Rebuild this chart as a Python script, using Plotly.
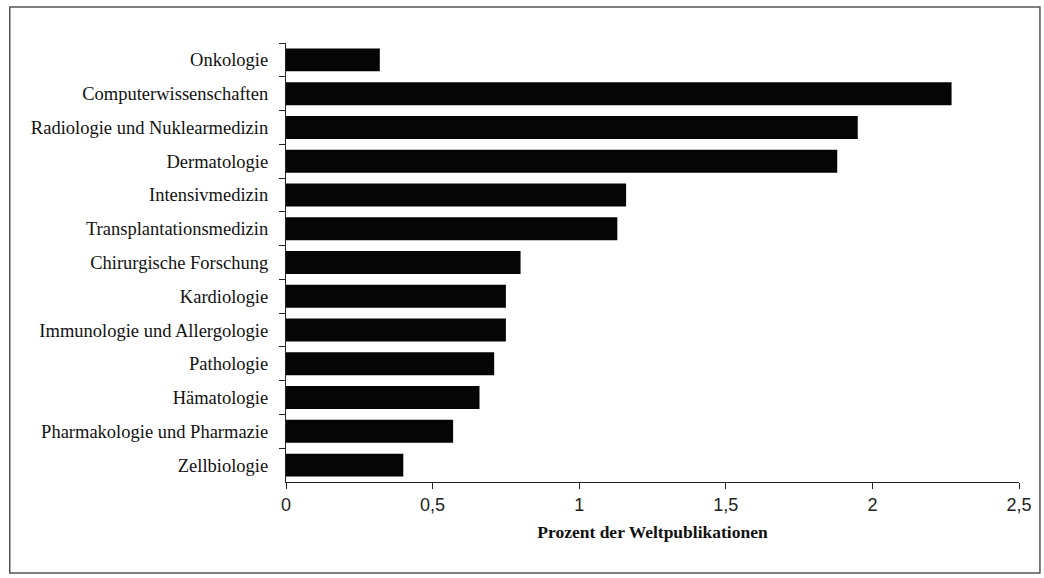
import plotly.graph_objects as go

categories = [
    "Onkologie",
    "Computerwissenschaften",
    "Radiologie und Nuklearmedizin",
    "Dermatologie",
    "Intensivmedizin",
    "Transplantationsmedizin",
    "Chirurgische Forschung",
    "Kardiologie",
    "Immunologie und Allergologie",
    "Pathologie",
    "Hämatologie",
    "Pharmakologie und Pharmazie",
    "Zellbiologie",
]
values = [0.32, 2.27, 1.95, 1.88, 1.16, 1.13, 0.80, 0.75, 0.75, 0.71, 0.66, 0.57, 0.40]
x_ticks = [0, 0.5, 1, 1.5, 2, 2.5]
x_title = "Prozent der Weltpublikationen"

L, R, T, B = 286, 23, 43, 96
W, H = 1044, 578
pw, ph = W - L - R, H - T - B

def px_x(p):
    return (p - L) / pw

def px_y(p):
    return (H - B - p) / ph

fig = go.Figure(go.Bar(
    x=values, y=categories, orientation="h",
    marker=dict(color="#050505", line=dict(width=0)),
    width=0.68,
))

fig.update_layout(
    width=W, height=H,
    margin=dict(l=L, r=R, t=T, b=B),
    paper_bgcolor="white", plot_bgcolor="white",
    separators=",.",
    showlegend=False,
    xaxis=dict(
        range=[0, 2.5], tickvals=x_ticks,
        showgrid=False, zeroline=False,
        showline=True, linecolor="#222", linewidth=1.2,
        ticks="outside", ticklen=6, tickcolor="#222", tickwidth=1.2,
        ticklabelstandoff=0,
        tickfont=dict(family="Liberation Sans, Arial", size=18, color="#222"),
        title=dict(text="<b>" + x_title + "</b>",
                   font=dict(family="Liberation Serif, Times New Roman", size=17.5, color="#111"),
                   standoff=12),
    ),
    yaxis=dict(
        categoryorder="array", categoryarray=categories, autorange="reversed",
        showgrid=False, zeroline=False,
        showline=True, linecolor="#222", linewidth=1.2,
        ticks="outside", ticklen=6, tickcolor="#222", tickwidth=1.2,
        tickson="boundaries",
        ticklabelstandoff=13,
        tickfont=dict(family="Liberation Serif, Times New Roman", size=18.5, color="#111"),
    ),
    shapes=[dict(
        type="rect", xref="paper", yref="paper",
        x0=px_x(9), x1=px_x(1042), y0=px_y(573), y1=px_y(7),
        line=dict(color="#555", width=1.5), fillcolor="rgba(0,0,0,0)", layer="below",
    )],
)

fig.write_html(
    "out.html",
    config={"displayModeBar": False},
    post_script="document.body.style.margin='0';document.body.style.overflow='hidden';",
)
